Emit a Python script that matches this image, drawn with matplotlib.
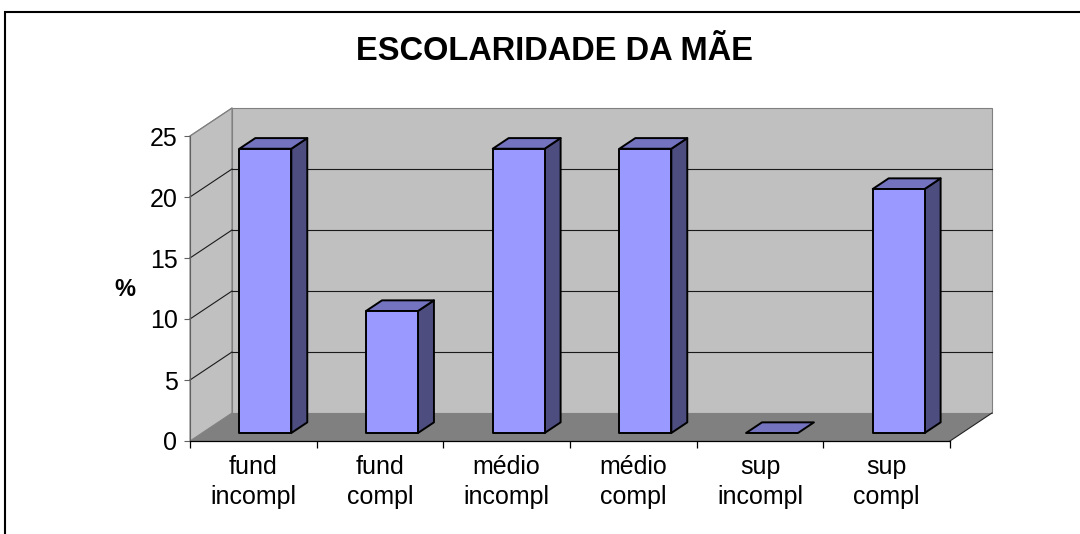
import matplotlib
matplotlib.use("Agg")
import matplotlib.pyplot as plt
from matplotlib.patches import Polygon, Rectangle
from matplotlib.transforms import Affine2D, IdentityTransform
import numpy as np

# ---- data ----
categories = ["fund\nincompl", "fund\ncompl", "médio\nincompl", "médio\ncompl", "sup\nincompl", "sup\ncompl"]
values = [23.3, 10.0, 23.3, 23.3, 0.0, 20.0]
yticks = [0, 5, 10, 15, 20, 25]
title = "ESCOLARIDADE DA MÃE"
ylabel = "%"

# ---- style ----
FONT = ["Liberation Sans", "DejaVu Sans"]
plt.rcParams["font.family"] = FONT
W, H, DPI = 1080, 534, 100
DX, DY = 42.0, 28.0          # depth offset of back wall in pixels
BAR_F, BAR_D = 0.286, 0.38   # bar front position and bar depth (fraction of full depth)
BW = 0.41                    # bar width in category units
C_FRONT, C_TOP, C_SIDE = "#9999FF", "#7373BF", "#4D4D80"
C_WALL, C_FLOOR, C_EDGE = "#C0C0C0", "#808080", "#808080"

fig = plt.figure(figsize=(W / DPI, H / DPI), dpi=DPI)
fig.patch.set_facecolor("white")
ax = fig.add_axes([190 / W, (H - 441) / H, 760 / W, 305 / H])
n = len(categories)
ax.set_xlim(0, n)
ax.set_ylim(0, yticks[-1])
ax.patch.set_visible(False)


def shift(t):
    return ax.transData + Affine2D().translate(t * DX, t * DY)


def P(x, y, t):
    px, py = ax.transData.transform((x, y))
    return (px + t * DX, py + t * DY)


def poly(pts, **kw):
    p = Polygon(pts, closed=True, transform=IdentityTransform(), clip_on=False, **kw)
    ax.add_patch(p)
    return p


ymax = yticks[-1]
# left wall
poly([P(0, 0, 0), P(0, ymax, 0), P(0, ymax, 1), P(0, 0, 1)], facecolor=C_WALL,
     edgecolor=C_EDGE, lw=0.8, zorder=0.5)
# back wall
poly([P(0, 0, 1), P(n, 0, 1), P(n, ymax, 1), P(0, ymax, 1)], facecolor=C_WALL,
     edgecolor=C_EDGE, lw=0.8, zorder=0.5)
# gridlines
for y in yticks[1:-1]:
    ax.plot([0, n], [y, y], transform=shift(1), color="#1a1a1a", lw=0.8, zorder=0.8, clip_on=False)
    a, b = P(0, y, 0), P(0, y, 1)
    ax.plot([a[0], b[0]], [a[1], b[1]], transform=IdentityTransform(), color="#1a1a1a",
            lw=0.8, zorder=0.8, clip_on=False)
# top diagonal of left wall
a, b = P(0, ymax, 0), P(0, ymax, 1)
ax.plot([a[0], b[0]], [a[1], b[1]], transform=IdentityTransform(), color=C_EDGE, lw=0.8,
        zorder=0.9, clip_on=False)
# floor
poly([P(0, 0, 0), P(n, 0, 0), P(n, 0, 1), P(0, 0, 1)], facecolor=C_FLOOR,
     edgecolor="none", zorder=1)
a, b = P(n, 0, 0), P(n, 0, 1)
ax.plot([a[0], b[0]], [a[1], b[1]], transform=IdentityTransform(), color="#222222", lw=0.8,
        zorder=1.1, clip_on=False)

# bars
for i, v in enumerate(values):
    xl = i + 0.5 - BW / 2
    xr = xl + BW
    f0, f1 = BAR_F, BAR_F + BAR_D
    if v > 0:
        poly([P(xr, 0, f0), P(xr, v, f0), P(xr, v, f1), P(xr, 0, f1)], facecolor=C_SIDE,
             edgecolor="black", lw=1.4, joinstyle="round", zorder=3)
    poly([P(xl, v, f0), P(xr, v, f0), P(xr, v, f1), P(xl, v, f1)], facecolor=C_TOP,
         edgecolor="black", lw=1.4, joinstyle="round", zorder=3)
    if v > 0:
        ax.add_patch(Rectangle((xl, 0), BW, v, transform=shift(f0), facecolor=C_FRONT,
                               edgecolor="black", lw=1.4, joinstyle="round", zorder=4,
                               clip_on=False))

# axes, ticks, labels
for s in ["top", "right"]:
    ax.spines[s].set_visible(False)
ax.spines["left"].set_color("#606060")
ax.spines["left"].set_linewidth(0.8)
ax.spines["bottom"].set_color("black")
ax.spines["bottom"].set_linewidth(0.9)
ax.spines["left"].set_zorder(2)
ax.spines["bottom"].set_zorder(2)

ax.set_yticks(yticks)
ax.set_yticklabels([str(t) for t in yticks])
ax.tick_params(axis="y", direction="out", length=4, width=0.8, color="#606060", pad=5,
               labelsize=18, labelcolor="black")
ax.set_xticks(np.arange(n + 1))
ax.set_xticklabels([])
ax.set_xticks(np.arange(n) + 0.5, minor=True)
ax.set_xticklabels(categories, minor=True, fontsize=18, linespacing=1.32)
ax.tick_params(axis="x", which="major", direction="out", length=5, width=0.9, color="black")
ax.tick_params(axis="x", which="minor", length=0, pad=10)

ax.set_ylabel(ylabel, rotation=0, fontsize=17, fontweight="bold", ha="center", va="center")
ax.yaxis.set_label_coords((125 - 190) / 760, (441 - 290) / 305)

fig.text(554 / W, (H - 59.5) / H, title, ha="center", va="baseline", fontsize=23.5,
         fontweight="bold")

# outer border
fig.add_artist(Rectangle((5 / W, -0.1), 1.2, (H - 12) / H + 0.1, transform=fig.transFigure,
                         fill=False, edgecolor="black", lw=1.5))

fig.savefig("out.png", dpi=DPI)
